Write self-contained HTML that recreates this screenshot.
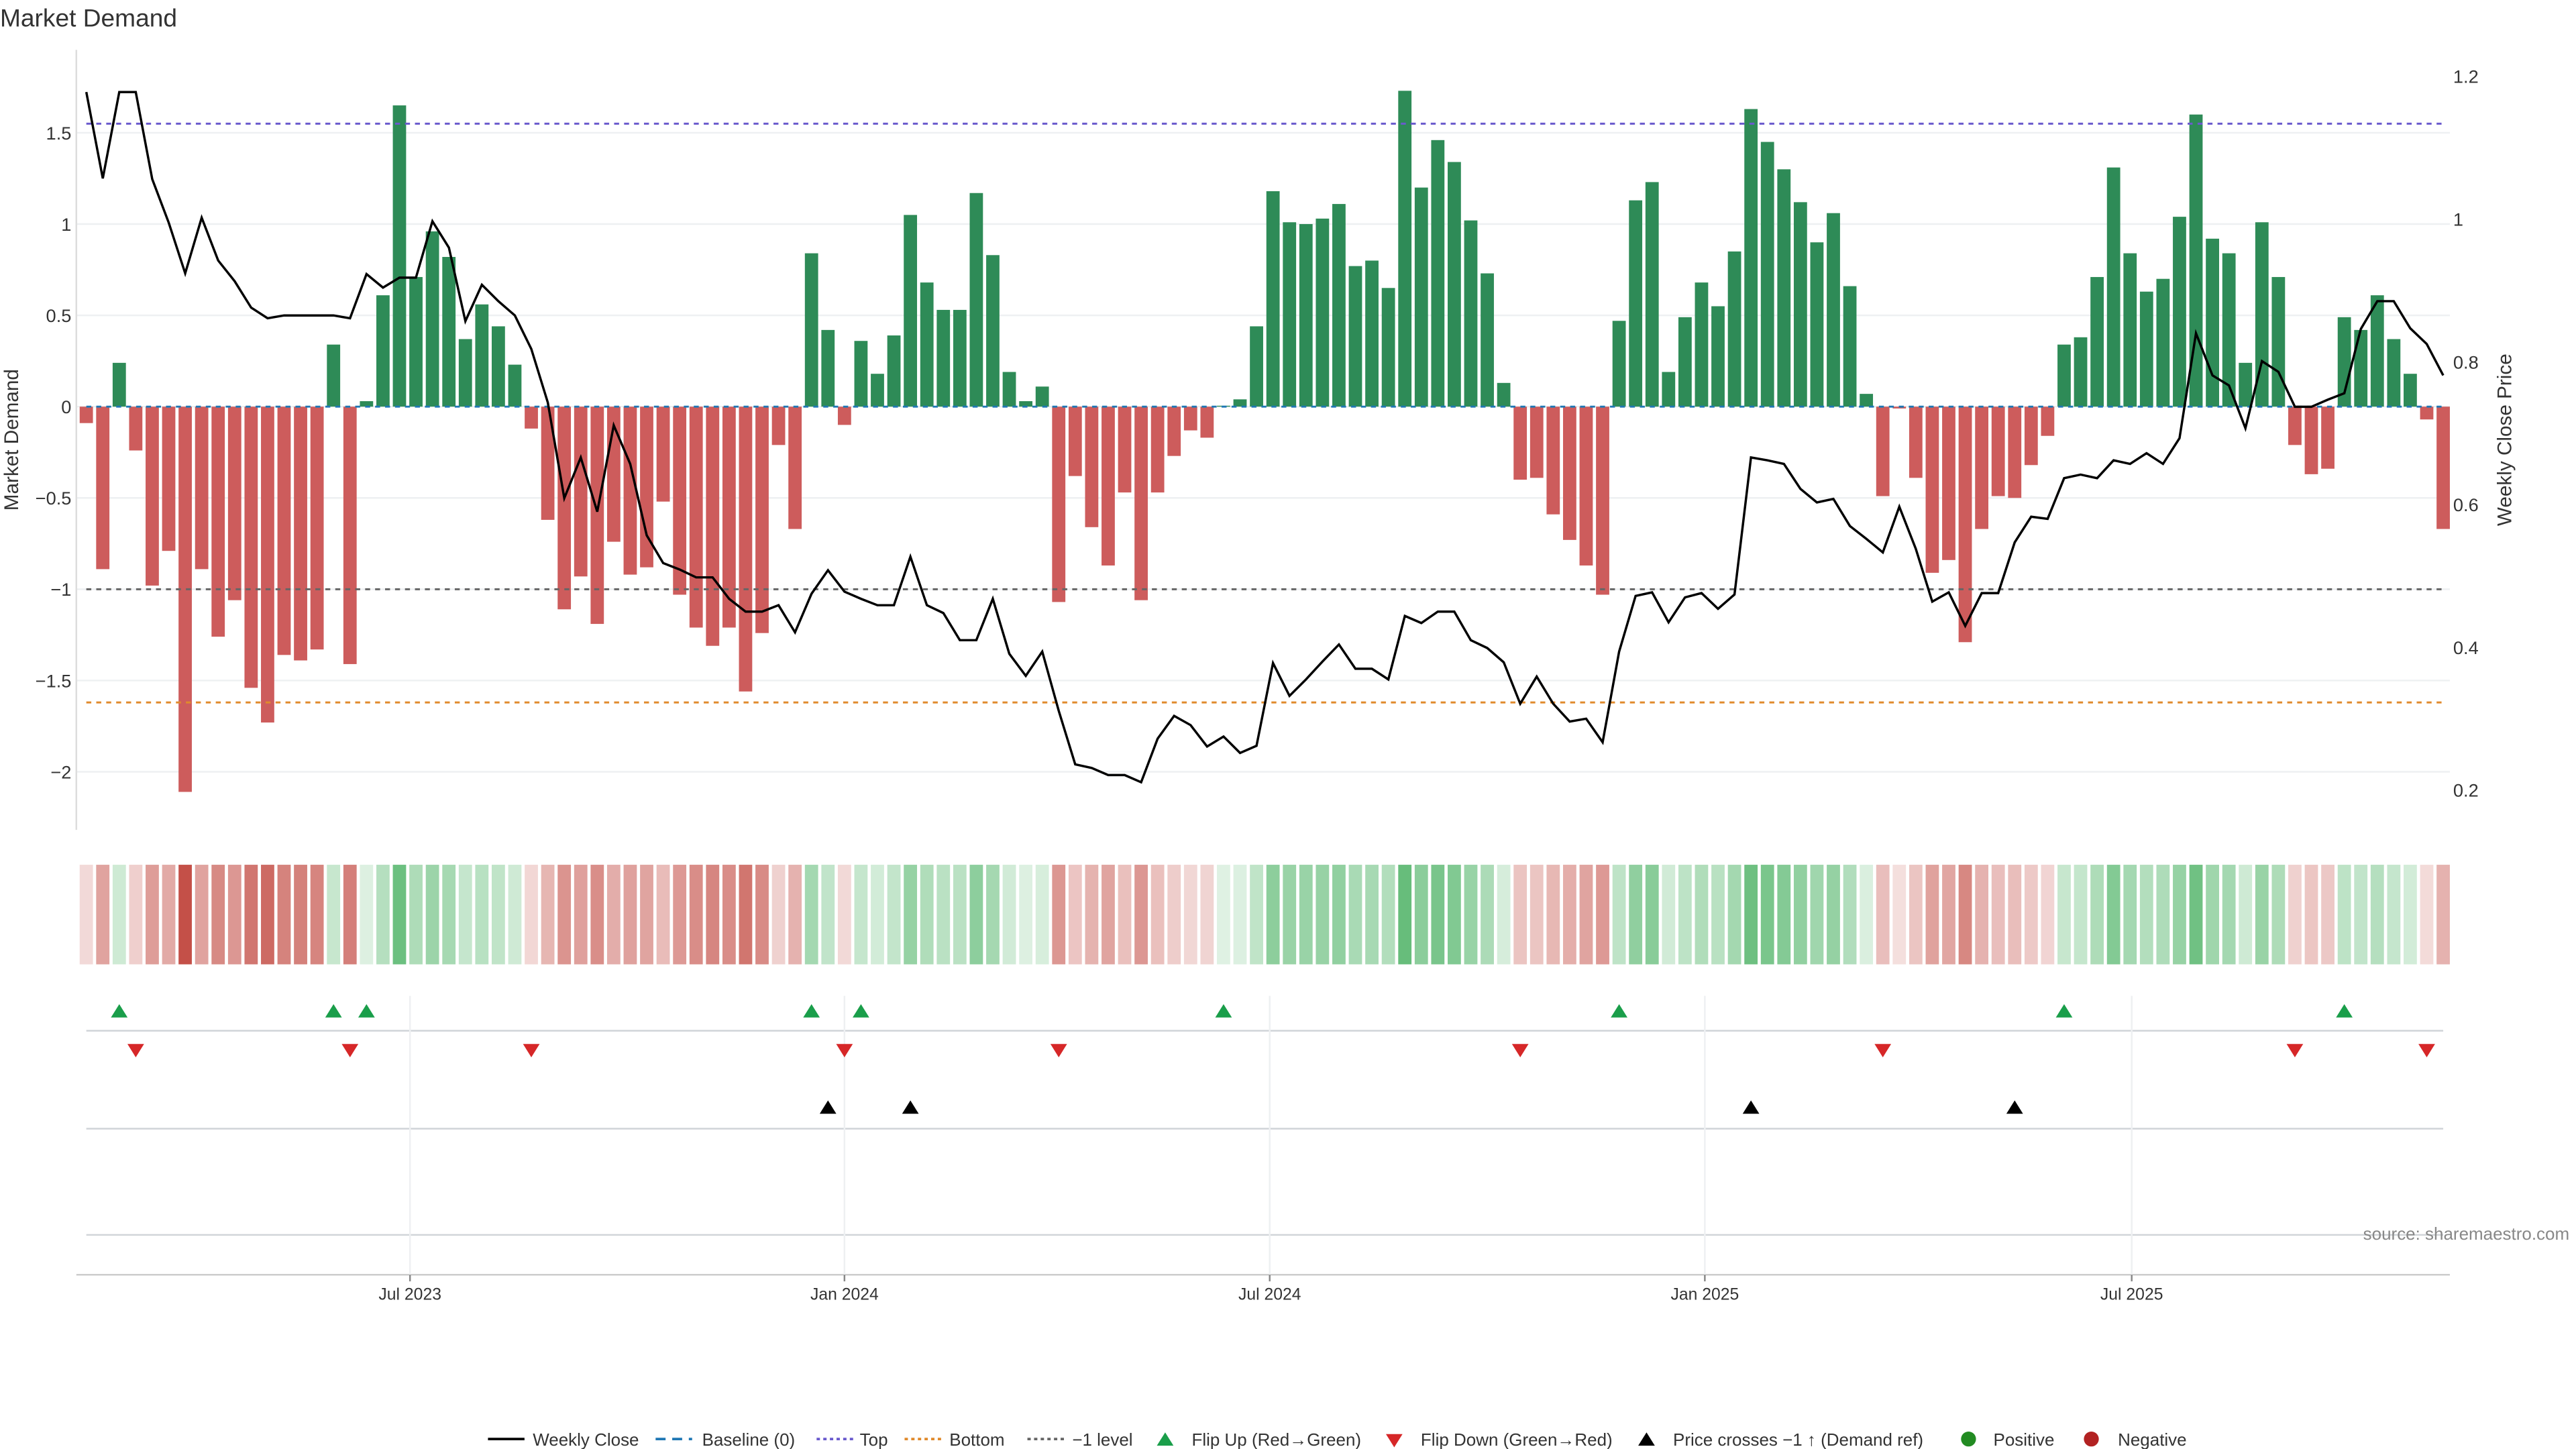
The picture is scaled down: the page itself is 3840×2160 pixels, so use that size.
<!DOCTYPE html>
<html><head><meta charset="utf-8"><style>
html,body{margin:0;padding:0;background:#fff;}
svg{display:block;font-family:"Liberation Sans","DejaVu Sans",sans-serif;}
</style></head><body>
<svg id="chart" xmlns="http://www.w3.org/2000/svg" width="3840" height="2160" viewBox="0 0 1552 873">
<rect width="1552" height="873" fill="#fff"/>
<text x="0" y="16" font-size="15" fill="#333">Market Demand</text>
<g id="grid"></g><g id="bars"></g><g id="refs"></g><g id="line"></g><g id="axes"></g><g id="heat"></g><g id="signals"></g>
<text transform="translate(11,265) rotate(-90)" text-anchor="middle" font-size="12" fill="#333">Market Demand</text>
<text transform="translate(1513,265) rotate(-90)" text-anchor="middle" font-size="12" fill="#333">Weekly Close Price</text>
<text x="1548" y="747" text-anchor="end" font-size="10.5" fill="#888">source: sharemaestro.com</text>
<g id="legend" font-size="10.5" fill="#333"></g>
</svg>
<script>
const demand=[-0.09,-0.89,0.24,-0.24,-0.98,-0.79,-2.11,-0.89,-1.26,-1.06,-1.54,-1.73,-1.36,-1.39,-1.33,0.34,-1.41,0.03,0.61,1.65,0.71,0.96,0.82,0.37,0.56,0.44,0.23,-0.12,-0.62,-1.11,-0.93,-1.19,-0.74,-0.92,-0.88,-0.52,-1.03,-1.21,-1.31,-1.21,-1.56,-1.24,-0.21,-0.67,0.84,0.42,-0.10,0.36,0.18,0.39,1.05,0.68,0.53,0.53,1.17,0.83,0.19,0.03,0.11,-1.07,-0.38,-0.66,-0.87,-0.47,-1.06,-0.47,-0.27,-0.13,-0.17,0.005,0.04,0.44,1.18,1.01,1.0,1.03,1.11,0.77,0.80,0.65,1.73,1.20,1.46,1.34,1.02,0.73,0.13,-0.40,-0.39,-0.59,-0.73,-0.87,-1.03,0.47,1.13,1.23,0.19,0.49,0.68,0.55,0.85,1.63,1.45,1.30,1.12,0.90,1.06,0.66,0.07,-0.49,-0.01,-0.39,-0.91,-0.84,-1.29,-0.67,-0.49,-0.50,-0.32,-0.16,0.34,0.38,0.71,1.31,0.84,0.63,0.70,1.04,1.60,0.92,0.84,0.24,1.01,0.71,-0.21,-0.37,-0.34,0.49,0.42,0.61,0.37,0.18,-0.07,-0.67];
const price=[1.178,1.057,1.178,1.178,1.056,0.995,0.924,1.002,0.942,0.913,0.876,0.861,0.865,0.865,0.865,0.865,0.861,0.923,0.904,0.918,0.918,0.997,0.960,0.857,0.908,0.885,0.865,0.818,0.743,0.609,0.666,0.590,0.711,0.657,0.557,0.518,0.509,0.498,0.498,0.468,0.450,0.450,0.459,0.421,0.475,0.508,0.478,0.468,0.459,0.459,0.527,0.459,0.448,0.410,0.410,0.468,0.391,0.360,0.394,0.311,0.236,0.231,0.221,0.221,0.211,0.272,0.304,0.291,0.261,0.275,0.252,0.262,0.378,0.332,0.355,0.380,0.404,0.370,0.370,0.355,0.444,0.434,0.450,0.450,0.410,0.399,0.379,0.321,0.359,0.321,0.296,0.300,0.267,0.394,0.472,0.477,0.435,0.470,0.476,0.454,0.474,0.666,0.662,0.657,0.622,0.603,0.608,0.570,0.552,0.533,0.597,0.538,0.464,0.477,0.430,0.476,0.476,0.547,0.583,0.580,0.637,0.642,0.637,0.662,0.657,0.672,0.657,0.693,0.840,0.781,0.767,0.707,0.801,0.786,0.737,0.737,0.747,0.756,0.846,0.885,0.885,0.847,0.825,0.781];
const leftTicks=[1.5,1,0.5,0,-0.5,-1,-1.5,-2];
const leftTickLabels=["1.5","1","0.5","0","−0.5","−1","−1.5","−2"];
const rightTicks=[1.2,1,0.8,0.6,0.4,0.2];
const rightTickLabels=["1.2","1","0.8","0.6","0.4","0.2"];
const dateTickIndex=[19.64,46.0,71.8,98.2,124.1];
const dateTickLabels=["Jul 2023","Jan 2024","Jul 2024","Jan 2025","Jul 2025"];
const topLevel=1.55, bottomLevel=-1.62, minusLevel=-1, priceRef=0.481;

const NS="http://www.w3.org/2000/svg";
const n=demand.length;
const X=i=>52+i*(1420/(n-1));
const Y=v=>245-110*v;
const YP=p=>476-(p-0.2)*430;
function mk(tag,attrs,parent){const e=document.createElementNS(NS,tag);for(const k in attrs)e.setAttribute(k,attrs[k]);document.getElementById(parent).appendChild(e);return e;}

leftTicks.forEach((t,i)=>{
  const g=mk('line',{x1:46,x2:1476,y1:Y(t),y2:Y(t),stroke:'#eef0f2','stroke-width':1},'grid');
  
  
  const l=mk('text',{x:43,y:Y(t)+4,'text-anchor':'end','font-size':11,fill:'#333'},'axes');
  l.textContent=leftTickLabels[i];
  
  
});
rightTicks.forEach((t,i)=>{
  const l=mk('text',{x:1478,y:YP(t)+4,'font-size':11,fill:'#333'},'axes');
  l.textContent=rightTickLabels[i];
  
  
});
const ax=mk('line',{x1:46,x2:46,y1:30,y2:500,stroke:'#ddd'},'axes');



const maxAbs=Math.max(...demand.map(Math.abs));
demand.forEach((v,i)=>{
  const b=mk('rect',{x:X(i)-4,width:8,y:Math.min(Y(v),245),height:Math.max(Math.abs(Y(v)-245),0.5),fill:v>=0?'#2e8b57':'#cd5c5c'},'bars');
  
  
  const a=0.18+0.82*Math.abs(v)/maxAbs;
  const c=v>=0?`rgba(76,178,100,${a})`:`rgba(196,80,72,${a})`;
  const h=mk('rect',{x:X(i)-4,width:8,y:521,height:60,fill:c},'heat');
  
  
});
function ref(val,color,name){const l=mk('line',{x1:52,x2:1472,y1:Y(val),y2:Y(val),stroke:color,'stroke-width':1.2,'stroke-dasharray':'3,3'},'refs');
  
  }
ref(0,'#1f77b4','baseline-line');ref(topLevel,'#6a5acd','top-line');ref(bottomLevel,'#e08a2c','bottom-line');ref(minusLevel,'#666','minus-one-line');

const pl=mk('polyline',{points:price.map((p,i)=>X(i)+','+YP(p)).join(' '),fill:'none',stroke:'#000','stroke-width':1.4},'line');



// signals area
[621,680,744].forEach(y=>{const l=mk('line',{x1:52,x2:1472,y1:y,y2:y,stroke:'#d0d4d8'},'signals');
  
  });
const bl=mk('line',{x1:46,x2:1476,y1:768,y2:768,stroke:'#ccc'},'signals');


dateTickIndex.forEach((t,i)=>{
  const x=X(t);
  const g=mk('line',{x1:x,x2:x,y1:600,y2:768,stroke:'#eef0f2'},'signals');
  
  
  const tk=mk('line',{x1:x,x2:x,y1:768,y2:772,stroke:'#888'},'signals');
  
  
  const l=mk('text',{x:x,y:783,'text-anchor':'middle','font-size':10,fill:'#333'},'signals');
  l.textContent=dateTickLabels[i];
  
  
});
const tri=(x,y,up)=>up?`${x-5},${y+4} ${x+5},${y+4} ${x},${y-4}`:`${x-5},${y-4} ${x+5},${y-4} ${x},${y+4}`;
for(let i=1;i<n;i++){
  if(demand[i-1]<0&&demand[i]>=0){const t=mk('polygon',{points:tri(X(i),609,true),fill:'#1a9e4a'},'signals');
    
    }
  if(demand[i-1]>=0&&demand[i]<0){const t=mk('polygon',{points:tri(X(i),633,false),fill:'#d62728'},'signals');
    
    }
  if(price[i-1]<priceRef&&price[i]>=priceRef){const t=mk('polygon',{points:tri(X(i),667,true),fill:'#000'},'signals');
    
    }
}
// legend
const L=document.getElementById('legend');
function lt(x,s,name){const t=document.createElementNS(NS,'text');t.setAttribute('x',x);t.setAttribute('y',871);t.textContent=s;
  
  L.appendChild(t);}
function ll(x,color,dash,w,name){const l=document.createElementNS(NS,'line');l.setAttribute('x1',x);l.setAttribute('x2',x+22);l.setAttribute('y1',867);l.setAttribute('y2',867);l.setAttribute('stroke',color);l.setAttribute('stroke-width',w);if(dash)l.setAttribute('stroke-dasharray',dash);
  
  L.appendChild(l);}
ll(294,'#000','',1.5,'legend-weekly-close-swatch');lt(321,'Weekly Close','legend-weekly-close');
ll(395,'#1f77b4','6,4',1.5,'legend-baseline-swatch');lt(423,'Baseline (0)','legend-baseline');
ll(492,'#6a5acd','2,2',1.5,'legend-top-swatch');lt(518,'Top','legend-top');
ll(545,'#e08a2c','2,2',1.5,'legend-bottom-swatch');lt(572,'Bottom','legend-bottom');
ll(619,'#666','2,2',1.5,'legend-minus-one-swatch');lt(646,'−1 level','legend-minus-one');
function lp(pts,fill,name){const p=document.createElementNS(NS,'polygon');p.setAttribute('points',pts);p.setAttribute('fill',fill);
  
  L.appendChild(p);}
lp(tri(702,867,true),'#1a9e4a','legend-flip-up-swatch');lt(718,'Flip Up (Red→Green)','legend-flip-up');
lp(tri(840,868,false),'#d62728','legend-flip-down-swatch');lt(856,'Flip Down (Green→Red)','legend-flip-down');
lp(tri(992,867,true),'#000','legend-price-cross-swatch');lt(1008,'Price crosses −1 ↑ (Demand ref)','legend-price-cross');
function lc(x,fill,name){const c=document.createElementNS(NS,'circle');c.setAttribute('cx',x);c.setAttribute('cy',867);c.setAttribute('r',4.5);c.setAttribute('fill',fill);
  
  L.appendChild(c);}
lc(1186,'#228b22','legend-positive-swatch');lt(1201,'Positive','legend-positive');
lc(1260,'#b22222','legend-negative-swatch');lt(1276,'Negative','legend-negative');
</script>
</body></html>
